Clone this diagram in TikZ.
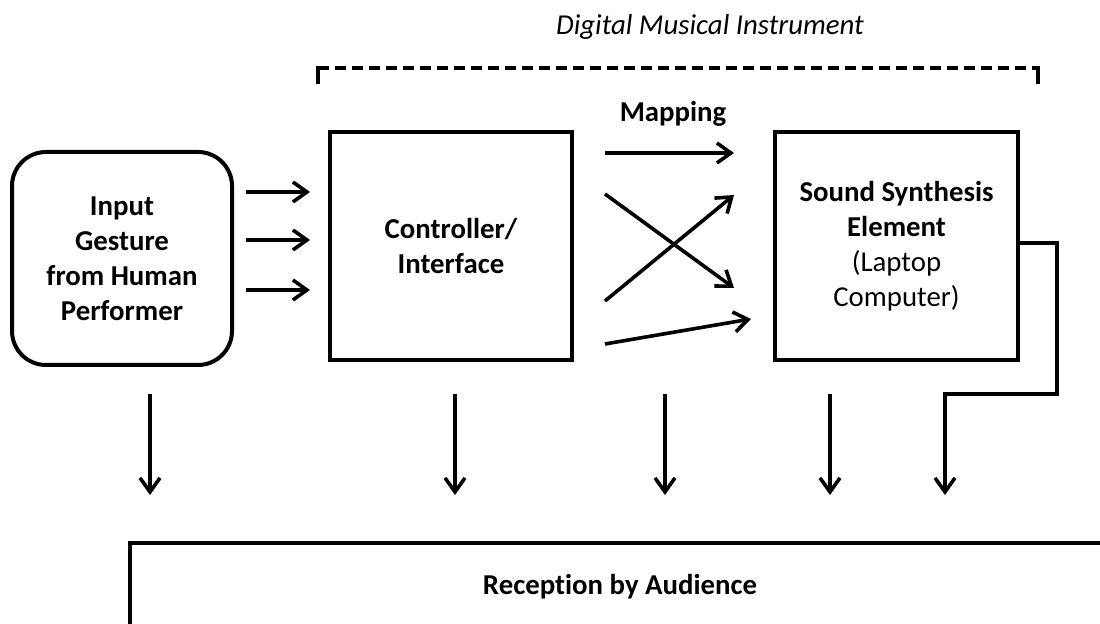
\documentclass[tikz,border=0pt]{standalone}
\usepackage{fontspec}
\setmainfont[Ligatures=NoCommon]{Carlito}
\usetikzlibrary{arrows.meta,calc}
\begin{document}
\begin{tikzpicture}[x=0.5pt,y=-0.5pt,
  box/.style={draw,line width=2pt,inner sep=0pt,align=center,
    font=\fontsize{14.4}{17.5}\selectfont\bfseries},
  lbl/.style={inner sep=0pt,font=\fontsize{14.4}{17.5}\selectfont},
  arr/.style={line width=1.8pt,-{Straight Barb[length=7pt,width=10pt,line width=1.8pt]}},
  dashline/.style={line width=2.2pt,dash pattern=on 5.5pt off 3pt}]
\useasboundingbox (0,0) rectangle (1100,624);
\node[box,rounded corners=17pt,minimum width=110pt,minimum height=106.5pt] (in) at (122,258.5)
  {Input\\Gesture\\from Human\\Performer};
\node[box,minimum width=121pt,minimum height=114pt] (ctl) at (451,246) {Controller/\\Interface};
\node[box,minimum width=121.5pt,minimum height=114pt] (snd) at (896.5,246)
  {Sound Synthesis\\Element\\\mdseries(Laptop\\\mdseries Computer)};
\node[box,minimum width=490pt,minimum height=44pt] (aud) at (620,587) {Reception by Audience};
\node[lbl,font=\fontsize{14.4}{17.5}\selectfont\itshape] (title) at (710,27) {Digital Musical Instrument};
\node[lbl,font=\fontsize{14.4}{17.5}\selectfont\bfseries] (map) at (673,114) {Mapping};
% bracket
\draw[dashline] (318,68) -- (1038,68);
\draw[line width=2.2pt] (318,66.5) -- (318,84) (1038,66.5) -- (1038,84);
% input arrows
\draw[arr] ([shift={(12,-66.5)}]in.east) -- ([shift={(-18,-54)}]ctl.west);
\draw[arr] ([shift={(12,-18.5)}]in.east) -- ([shift={(-18,-6)}]ctl.west);
\draw[arr] ([shift={(12,31.5)}]in.east) -- ([shift={(-18,44)}]ctl.west);
% mapping arrows
\draw[arr] ([shift={(31,-93)}]ctl.east) -- ([shift={(-39,-93)}]snd.west);
\draw[arr] ([shift={(31,-52)}]ctl.east) -- ([shift={(-39,42)}]snd.west);
\draw[arr] ([shift={(31,55)}]ctl.east) -- ([shift={(-39,-51)}]snd.west);
\draw[arr] ([shift={(31,98)}]ctl.east) -- ([shift={(-22,73)}]snd.west);
% down arrows
\draw[arr] ($(in.south)+(28,27)$) -- ($(aud.north -| in.south)+(28,-46)$);
\draw[arr] ($(ctl.south)+(4,32)$) -- ($(aud.north -| ctl.south)+(4,-46)$);
\draw[arr] ($(ctl.south)+(214,32)$) -- ($(aud.north -| ctl.south)+(214,-46)$);
\draw[arr] ($(snd.south)+(-66.5,32)$) -- ($(aud.north -| snd.south)+(-66.5,-46)$);
% feedback
\draw[arr] ([yshift=1.5pt]snd.east) -| ($(snd.south east)+(37,32)$) -| ($(aud.north -| snd.south)+(48.5,-46)$);
\end{tikzpicture}
\end{document}
